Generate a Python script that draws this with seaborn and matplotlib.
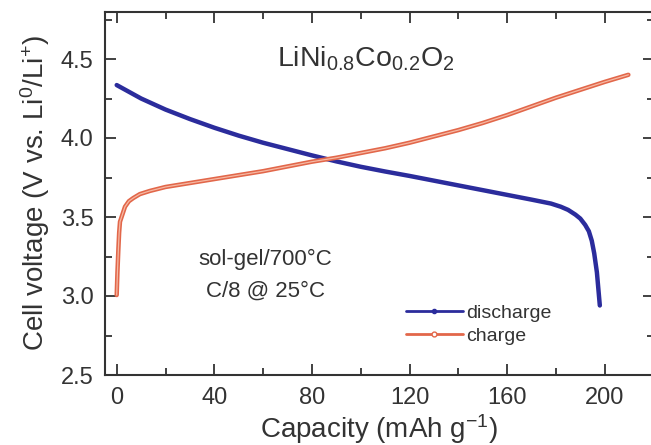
import pandas as pd
import seaborn as sns
import matplotlib.pyplot as plt
from matplotlib.lines import Line2D
from matplotlib.ticker import MultipleLocator

# Values
discharge_cap = [0, 10, 20, 30, 40, 50, 60, 70, 80, 90, 100, 110, 120, 130, 140,
                 150, 160, 170, 178, 182, 185, 188, 190, 192, 193.5, 194.7,
                 195.7, 196.8, 198]
discharge_v = [4.335, 4.25, 4.18, 4.12, 4.065, 4.015, 3.97, 3.93, 3.89, 3.852,
               3.818, 3.788, 3.76, 3.73, 3.70, 3.67, 3.64, 3.61, 3.585, 3.565,
               3.545, 3.515, 3.49, 3.45, 3.41, 3.35, 3.27, 3.15, 2.94]

charge_cap = [0, 0.3, 0.7, 1.0, 1.35, 2.0, 3.4, 5.0, 6.8, 9.5, 13.6, 20, 30, 40,
              50, 60, 70, 80, 90, 100, 110, 120, 130, 140, 150, 160, 170, 180,
              190, 200, 209.7]
charge_v = [3.006, 3.15, 3.30, 3.40, 3.47, 3.50, 3.565, 3.60, 3.62, 3.645, 3.665,
            3.69, 3.715, 3.74, 3.765, 3.79, 3.82, 3.85, 3.875, 3.905, 3.935, 3.97,
            4.01, 4.05, 4.095, 4.145, 4.20, 4.255, 4.305, 4.355, 4.40]

BLUE = '#2b2c9c'
RED = '#e2674a'
RED_LIGHT = '#f6b9a4'
TEXT = '#333333'

sns.set_style('ticks')
plt.rcParams['font.family'] = ['Liberation Sans', 'DejaVu Sans']
plt.rcParams['mathtext.fontset'] = 'custom'
plt.rcParams['mathtext.rm'] = 'Liberation Sans'
plt.rcParams['mathtext.it'] = 'Liberation Sans:italic'
plt.rcParams['mathtext.bf'] = 'Liberation Sans:bold'

df = pd.concat([
    pd.DataFrame({'cap': discharge_cap, 'v': discharge_v, 'series': 'discharge'}),
    pd.DataFrame({'cap': charge_cap, 'v': charge_v, 'series': 'charge'}),
], ignore_index=True)

fig = plt.figure(figsize=(6.51, 4.45), dpi=100)
ax = fig.add_axes([104.5 / 651, 1 - 375 / 445, (653.5 - 104.5) / 651, (375 - 11.6) / 445])

sns.lineplot(data=df, x='cap', y='v', hue='series', sort=False, estimator=None,
             palette={'discharge': BLUE, 'charge': RED}, linewidth=3.2,
             legend=False, ax=ax)
# light centre of the open-circle charge markers
ch = df[df['series'] == 'charge']
sns.lineplot(x=ch['cap'], y=ch['v'], sort=False, estimator=None, color=RED_LIGHT,
             linewidth=0.9, ax=ax)

ax.set_xlim(-5, 220)
ax.set_ylim(2.5, 4.8)
ax.xaxis.set_major_locator(MultipleLocator(40))
ax.xaxis.set_minor_locator(MultipleLocator(20))
ax.yaxis.set_minor_locator(MultipleLocator(0.25))
ax.set_yticks([2.5, 3.0, 3.5, 4.0, 4.5])
ax.set_yticklabels(['2.5', '3.0', '3.5', '4.0', '4.5'])
ax.tick_params(which='both', direction='in', top=True, right=True, color=TEXT,
               width=1.3, labelsize=17, labelcolor=TEXT)
ax.tick_params(axis='x', pad=9)
ax.tick_params(axis='y', pad=8)
ax.tick_params(which='major', length=8)
ax.tick_params(which='minor', length=5)
for s in ax.spines.values():
    s.set_color(TEXT)
    s.set_linewidth(1.5)

ax.set_xlabel('Capacity (mAh g$^{-1}$)', fontsize=20, color=TEXT, labelpad=2)
ax.set_ylabel('Cell voltage (V vs. Li$^{0}$/Li$^{+}$)', fontsize=20, color=TEXT,
              labelpad=6)

ax.text(102, 4.45, 'LiNi$_{0.8}$Co$_{0.2}$O$_2$', fontsize=20.5, color=TEXT,
        ha='center', va='baseline')
ax.text(61, 3.23, 'sol-gel/700°C', fontsize=16, color=TEXT, ha='center', va='center')
ax.text(61, 3.03, 'C/8 @ 25°C', fontsize=16, color=TEXT, ha='center', va='center')

handles = [
    Line2D([], [], color=BLUE, lw=2, marker='o', markersize=3, markevery=[1],
           label='discharge'),
    Line2D([], [], color=RED, lw=2, marker='o', markersize=3.5, markevery=[1],
           markerfacecolor='white', label='charge'),
]
ax.legend(handles=handles, loc='upper left', bbox_to_anchor=(0.532, 0.222),
          frameon=False, fontsize=14, handlelength=2.9, handletextpad=0.2,
          labelspacing=0.3, borderpad=0, labelcolor=TEXT)

fig.savefig('out.png', dpi=100)
